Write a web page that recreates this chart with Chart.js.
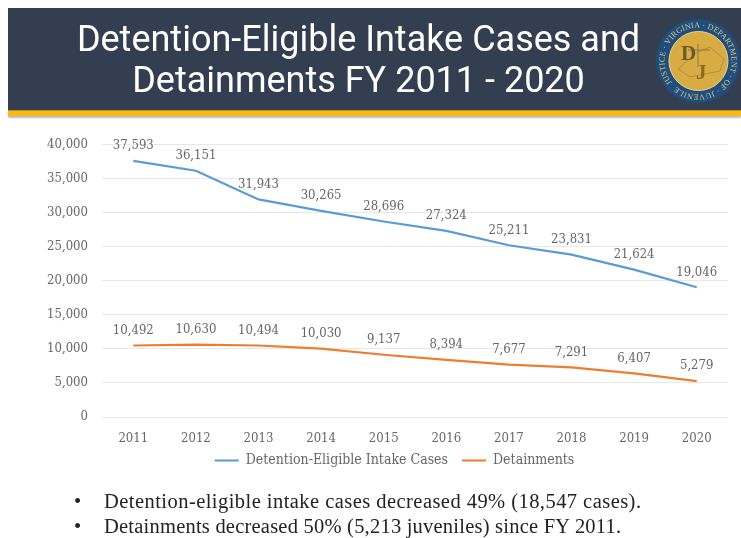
<!DOCTYPE html>
<html><head><meta charset="utf-8">
<script src="https://cdn.jsdelivr.net/npm/chart.js@4"></script>
<style>
html,body{margin:0;padding:0;background:#fff;width:741px;height:538px;overflow:hidden}
#banner{position:absolute;left:8px;top:8px;width:733px;height:102px;background:#333f50}
#gold{position:absolute;left:8px;top:110px;width:733px;height:6px;background:#fdb913;box-shadow:0 2px 2px #bbb;border-top:1px solid #b58f20;box-sizing:border-box}
#title{position:absolute;left:8px;top:19px;width:701px;text-align:center;color:#fff;font:36px/41px Roboto,sans-serif;filter:blur(.4px)}
#logo{position:absolute;left:654px;top:17px;width:88px;height:88px;filter:blur(.5px)}
#wrap{position:absolute;left:0;top:120px;width:741px;height:369px;filter:blur(.3px)}
#wrap canvas{display:block}
#notes{position:absolute;left:74px;top:489px;color:#222;font:20.5px/25px "Liberation Serif",serif;filter:blur(.3px);white-space:nowrap}
#notes div{position:relative;padding-left:30px}
#notes div::before{content:"•";position:absolute;left:0}
</style></head><body>
<div id="banner"></div><div id="gold"></div>
<div id="title">Detention-Eligible Intake Cases and<br>Detainments FY 2011 - 2020</div>
<svg id="logo" viewBox="0 0 88 88">
<circle cx="44" cy="44" r="42" fill="#1f4e7f"/>
<circle cx="44.5" cy="44" r="29.5" fill="#d8ac42" stroke="#e9d692" stroke-width="1"/>
<path id="ring" d="M44 77.5A33.5 33.5 0 1 1 44.01 77.5" fill="none" transform="rotate(45 44 44)"/>
<text font-family="Liberation Serif" font-size="8" fill="#e2c873"><textPath href="#ring" startOffset="3" textLength="204" lengthAdjust="spacing">JUSTICE · VIRGINIA · DEPARTMENT · OF · JUVENILE</textPath></text>
<path d="M24 52L42 36L56 30L70 42L66 54L36 60Z" fill="none" stroke="#a08a4a" stroke-width=".8"/>
<path d="M44 27V50M34 33H56" stroke="#8a7a50" stroke-width="1" fill="none"/>
<text x="27" y="43" font-family="Liberation Serif" font-size="21" font-weight="bold" fill="#6b5a2a">D</text>
<text x="42" y="62" font-family="Liberation Serif" font-size="21" font-weight="bold" fill="#8a6a20">J</text>
</svg>
<div id="wrap"><canvas id="c" width="741" height="369"></canvas></div>
<div id="notes"><div style="letter-spacing:.45px">Detention-eligible intake cases decreased 49% (18,547 cases).</div><div style="letter-spacing:.22px">Detainments decreased 50% (5,213 juveniles) since FY 2011.</div></div>
<script>
const years=["2011","2012","2013","2014","2015","2016","2017","2018","2019","2020"];
const intakeCases=[37593,36151,31943,30265,28696,27324,25211,23831,21624,19046];
const detainments=[10492,10630,10494,10030,9137,8394,7677,7291,6407,5279];
const seriesNames=["Detention-Eligible Intake Cases","Detainments"];
const chartFont="DejaVu Serif Condensed";
const labelPlugin={id:"valueLabels",afterDatasetsDraw(ch){
  const g=ch.ctx;g.save();g.font='13px "'+chartFont+'",serif';g.fillStyle="#666";g.textAlign="center";g.textBaseline="middle";
  ch.data.datasets.forEach((d,i)=>{ch.getDatasetMeta(i).data.forEach((p,j)=>{
    g.fillText(d.data[j].toLocaleString("en-US"),p.x,p.y-15);
  });});
  g.restore();
}};
const legendShift={id:"legendShift",afterLayout(ch){
  const l=ch.legend;l.left+=30.5;l.right+=30.5;l.top-=7.5;l.bottom-=7.5;
}};
new Chart(document.getElementById("c"),{
  type:"line",
  data:{labels:years,datasets:[
    {label:seriesNames[0],data:intakeCases,borderColor:"#5b9bd5",backgroundColor:"#5b9bd5",borderWidth:2.2,pointRadius:0,tension:0},
    {label:seriesNames[1],data:detainments,borderColor:"#ed7d31",backgroundColor:"#ed7d31",borderWidth:2.2,pointRadius:0,tension:0}
  ]},
  plugins:[labelPlugin,legendShift],
  options:{responsive:false,animation:false,
    layout:{padding:{left:0,right:13,top:24.5,bottom:4}},
    plugins:{tooltip:{enabled:false},
      legend:{position:"bottom",labels:{boxWidth:24,boxHeight:0,padding:14,color:"#666",font:{family:chartFont,size:14}}}},
    scales:{
      x:{offset:true,afterFit(s){s.height=30;},grid:{display:false},border:{display:false},ticks:{color:"#666",padding:6,font:{family:chartFont,size:13},maxRotation:0,autoSkip:false}},
      y:{min:0,max:40000,afterFit(s){s.width=102;},
        grid:{color:"#e8e8e8",drawTicks:false},border:{display:false},
        ticks:{stepSize:5000,color:"#666",padding:14,font:{family:chartFont,size:13},callback:v=>v.toLocaleString("en-US")}}
    }
  }
});
</script>
</body></html>
